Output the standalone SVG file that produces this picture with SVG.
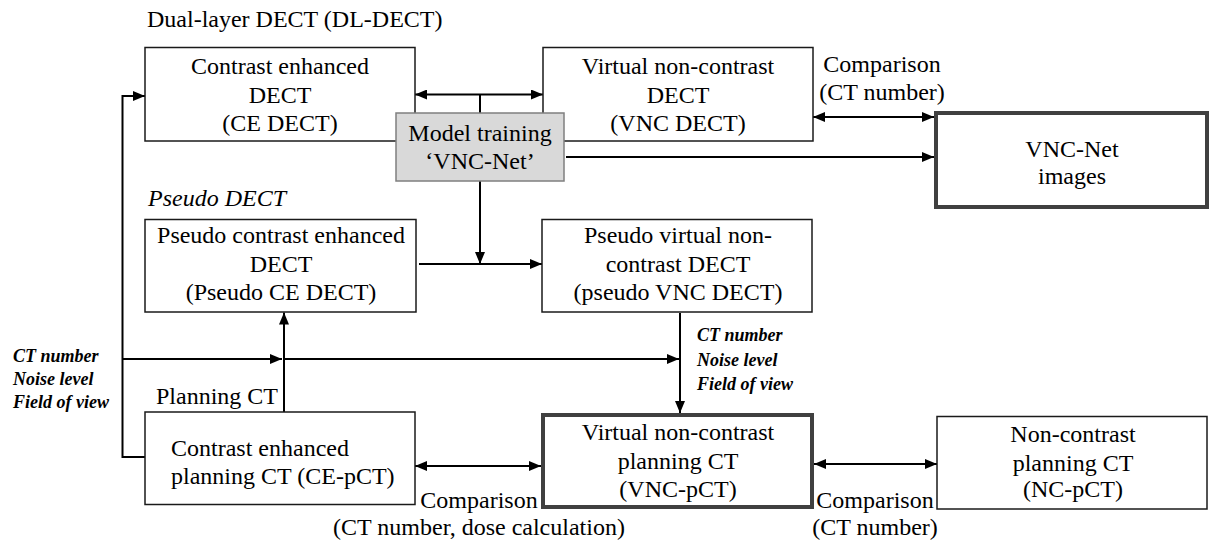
<svg xmlns="http://www.w3.org/2000/svg" width="1212" height="542" viewBox="0 0 1212 542">
<style>
  .box { fill: #ffffff; stroke: #1a1a1a; stroke-width: 1.5; }
  .thick { fill: #ffffff; stroke: #404040; stroke-width: 4; }
  .grey { fill: #d9d9d9; stroke: #7f7f7f; stroke-width: 1.5; }
  .t { font-family: "Liberation Serif", "Times New Roman", serif; font-size: 24px; fill: #000; }
  .c { text-anchor: middle; }
  .lab { font-family: "Liberation Serif", "Times New Roman", serif; font-size: 18px; font-weight: bold; font-style: italic; fill: #000; }
  .ln { fill: none; stroke: #000; stroke-width: 2; }
</style>
<defs>
  <marker id="ah" viewBox="0 0 12 10" refX="12" refY="5" markerWidth="12" markerHeight="10" markerUnits="userSpaceOnUse" orient="auto-start-reverse">
    <path d="M0,0 L12,5 L0,10 z" fill="#000"/>
  </marker>
</defs>

<text class="t" x="147" y="27">Dual-layer DECT (DL-DECT)</text>
<text class="t" x="148" y="206" font-style="italic">Pseudo DECT</text>
<text class="t" x="156" y="404">Planning CT</text>

<g id="connectors">
  <line class="ln" x1="415" y1="94.5" x2="543" y2="94.5" marker-start="url(#ah)" marker-end="url(#ah)"/>
  <line class="ln" x1="480" y1="113" x2="480" y2="94.5"/>
  <line class="ln" x1="480" y1="181" x2="480" y2="264" marker-end="url(#ah)"/>
  <line class="ln" x1="419" y1="264" x2="542" y2="264" marker-end="url(#ah)"/>
  <line class="ln" x1="813" y1="117" x2="934" y2="117" marker-start="url(#ah)" marker-end="url(#ah)"/>
  <line class="ln" x1="566" y1="157" x2="934" y2="157" marker-end="url(#ah)"/>
  <polyline class="ln" points="145,457 122.5,457 122.5,96 145,96" marker-end="url(#ah)"/>
  <line class="ln" x1="122.5" y1="359" x2="282" y2="359" marker-end="url(#ah)"/>
  <line class="ln" x1="284" y1="359" x2="679" y2="359" marker-end="url(#ah)"/>
  <line class="ln" x1="284" y1="412" x2="284" y2="312.5" marker-end="url(#ah)"/>
  <line class="ln" x1="680" y1="313" x2="680" y2="413" marker-end="url(#ah)"/>
  <line class="ln" x1="415" y1="466" x2="541" y2="466" marker-start="url(#ah)" marker-end="url(#ah)"/>
  <line class="ln" x1="814" y1="464" x2="937" y2="464" marker-start="url(#ah)" marker-end="url(#ah)"/>
</g>

<g id="ce_dect">
  <rect class="box" x="145" y="47.5" width="270" height="93.5"/>
  <text class="t c" x="280" y="74">Contrast enhanced</text>
  <text class="t c" x="280" y="102.5">DECT</text>
  <text class="t c" x="280" y="131">(CE DECT)</text>
</g>

<g id="vnc_dect">
  <rect class="box" x="543" y="47.5" width="270" height="93.5"/>
  <text class="t c" x="678" y="74">Virtual non-contrast</text>
  <text class="t c" x="678" y="102.5">DECT</text>
  <text class="t c" x="678" y="131">(VNC DECT)</text>
</g>

<g id="model_training">
  <rect class="grey" x="396" y="113" width="168" height="68"/>
  <text class="t c" x="480" y="141">Model training</text>
  <text class="t c" x="480" y="169">‘VNC-Net’</text>
</g>

<g id="vnc_net_images">
  <rect class="thick" x="936" y="113" width="271" height="94"/>
  <text class="t c" x="1072" y="157">VNC-Net</text>
  <text class="t c" x="1072" y="184">images</text>
</g>

<g id="label_comparison_top">
  <text class="t c" x="882" y="72">Comparison</text>
  <text class="t c" x="882" y="100">(CT number)</text>
</g>

<g id="pseudo_ce_dect">
  <rect class="box" x="145" y="219.5" width="271" height="92.5"/>
  <text class="t c" x="281" y="243">Pseudo contrast enhanced</text>
  <text class="t c" x="281" y="272">DECT</text>
  <text class="t c" x="281" y="300">(Pseudo CE DECT)</text>
</g>

<g id="pseudo_vnc_dect">
  <rect class="box" x="542" y="219.5" width="270" height="92.5"/>
  <text class="t c" x="678" y="243">Pseudo virtual non-</text>
  <text class="t c" x="678" y="272">contrast DECT</text>
  <text class="t c" x="678" y="300">(pseudo VNC DECT)</text>
</g>

<g id="labels_left">
  <text class="lab" x="13" y="362">CT number</text>
  <text class="lab" x="13" y="385">Noise level</text>
  <text class="lab" x="13" y="408">Field of view</text>
</g>

<g id="labels_right">
  <text class="lab" x="697" y="341">CT number</text>
  <text class="lab" x="697" y="365.5">Noise level</text>
  <text class="lab" x="697" y="390">Field of view</text>
</g>

<g id="ce_pct">
  <rect class="box" x="145" y="412" width="270" height="92.5"/>
  <text class="t" x="171" y="456">Contrast enhanced</text>
  <text class="t" x="171" y="484">planning CT (CE-pCT)</text>
</g>

<g id="vnc_pct">
  <rect class="thick" x="543" y="415" width="269" height="92"/>
  <text class="t c" x="678" y="440">Virtual non-contrast</text>
  <text class="t c" x="678" y="469">planning CT</text>
  <text class="t c" x="678" y="497">(VNC-pCT)</text>
</g>

<g id="nc_pct">
  <rect class="box" x="937" y="416.5" width="270" height="92.5"/>
  <text class="t c" x="1073" y="442">Non-contrast</text>
  <text class="t c" x="1073" y="470.5">planning CT</text>
  <text class="t c" x="1073" y="497">(NC-pCT)</text>
</g>

<g id="label_comparison_left">
  <text class="t c" x="479" y="508">Comparison</text>
  <text class="t c" x="479" y="535">(CT number, dose calculation)</text>
</g>

<g id="label_comparison_right">
  <text class="t c" x="875" y="508">Comparison</text>
  <text class="t c" x="875" y="535">(CT number)</text>
</g>
</svg>
